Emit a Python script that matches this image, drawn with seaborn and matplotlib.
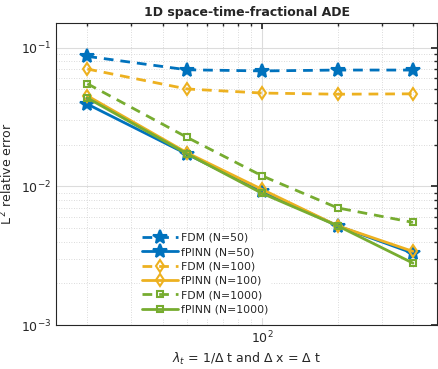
import numpy as np
import pandas as pd
import matplotlib
matplotlib.use("Agg")
import matplotlib.pyplot as plt
import seaborn as sns
from matplotlib.ticker import LogLocator, NullFormatter

# data
lam = [20, 50, 100, 200, 400]
fdm_50 = [0.0866, 0.0693, 0.0680, 0.0690, 0.0690]
fpinn_50 = [0.0392, 0.0171, 0.0092, 0.0052, 0.0033]
fdm_100 = [0.0702, 0.0504, 0.0471, 0.0462, 0.0465]
fpinn_100 = [0.0450, 0.0175, 0.0095, 0.0052, 0.0034]
fdm_1000 = [0.0550, 0.0226, 0.0119, 0.0070, 0.0055]
fpinn_1000 = [0.0434, 0.0172, 0.0089, 0.0052, 0.0028]

labels = ["FDM (N=50)", "fPINN (N=50)", "FDM (N=100)", "fPINN (N=100)",
          "FDM (N=1000)", "fPINN (N=1000)"]
series = [fdm_50, fpinn_50, fdm_100, fpinn_100, fdm_1000, fpinn_1000]

blue, yellow, green = "#0072BD", "#EDB120", "#77AC30"
styles = [
    dict(color=blue, marker="*", markersize=10.5, mfc=blue, dash=True),
    dict(color=blue, marker="*", markersize=10.5, mfc=blue, dash=False),
    dict(color=yellow, marker="d", markersize=6.5, mfc="none", dash=True),
    dict(color=yellow, marker="d", markersize=6.5, mfc="none", dash=False),
    dict(color=green, marker="s", markersize=5, mfc="none", dash=True),
    dict(color=green, marker="s", markersize=5, mfc="none", dash=False),
]

sns.set_theme(style="white")
plt.rcParams["font.family"] = ["DejaVu Sans"]

fig = plt.figure(figsize=(4.38, 3.69), dpi=100)
ax = fig.add_axes([0.128, 0.119, 0.87, 0.819])

for lab, vals, st in zip(labels, series, styles):
    df = pd.DataFrame({"x": lam, "y": vals})
    sns.lineplot(data=df, x="x", y="y", ax=ax, color=st["color"], lw=2,
                 marker=st["marker"], markersize=st["markersize"],
                 markerfacecolor=st["mfc"], markeredgecolor=st["color"],
                 markeredgewidth=1.5, label=lab)
    if st["dash"]:
        ax.lines[-1].set_dashes((3.5, 2.5))

ax.set_xscale("log")
ax.set_yscale("log")
ax.set_xlim(15, 500)
ax.set_ylim(1e-3, 0.151)

ax.xaxis.set_major_locator(LogLocator(base=10, numticks=10))
ax.xaxis.set_minor_locator(LogLocator(base=10, subs=np.arange(2, 10), numticks=10))
ax.yaxis.set_minor_locator(LogLocator(base=10, subs=np.arange(2, 10), numticks=10))
ax.xaxis.set_minor_formatter(NullFormatter())
ax.yaxis.set_minor_formatter(NullFormatter())

ax.grid(True, which="major", color="#dcdcdc", lw=0.8, ls="-")
ax.grid(True, which="minor", color="#cfcfcf", lw=0.6, ls=(0, (1, 2)))
ax.set_axisbelow(True)

ax.tick_params(which="both", direction="in", top=True, right=True,
               labelsize=9, colors="#262626")
ax.tick_params(which="major", length=4)
ax.tick_params(which="minor", length=2.5)
for s in ax.spines.values():
    s.set_color("#262626")
    s.set_linewidth(0.8)

ax.set_title("1D space-time-fractional ADE", fontsize=9, fontweight="bold", pad=5)
ax.set_xlabel(r"$\lambda_t$ = 1/$\Delta$ t and $\Delta$ x = $\Delta$ t", fontsize=9,
              color="#262626", labelpad=3)
ax.set_ylabel(r"L$^{\,2}$ relative error", fontsize=9, color="#262626", labelpad=4)

leg = ax.legend(loc="lower left", bbox_to_anchor=(0.205, 0.01), fontsize=7.8,
                handlelength=3.3, handletextpad=0.3, labelspacing=0.4,
                frameon=True, facecolor="white", edgecolor="white", framealpha=1,
                borderpad=0.2)

fig.savefig("out.png", dpi=100)
plt.close(fig)
